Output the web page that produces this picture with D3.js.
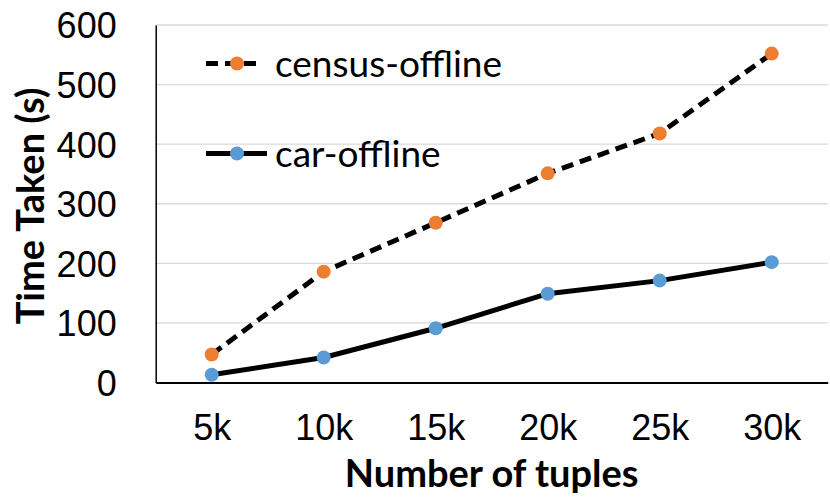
<!DOCTYPE html>
<html>
<head>
<meta charset="utf-8">
<script src="https://cdn.jsdelivr.net/npm/d3@7"></script>
<style>
  body { margin: 0; background: #fff; }
  svg { display: block; font-family: Lato, "Open Sans", sans-serif; }
</style>
</head>
<body>
<div id="chart"></div>
<script>
// data
let categories = ["5k", "10k", "15k", "20k", "25k", "30k"];
let censusValues = [47, 186, 268, 351, 418, 552];
let carValues = [13, 42, 91, 149, 171, 202];
let yTicks = [0, 100, 200, 300, 400, 500, 600];

let w = 830, h = 498;
let plotLeft = 155.7, plotRight = 827.7, plotTop = 25, plotBottom = 382.5;

let svg = d3.select("#chart")
  .append("svg")
  .attr("width", w)
  .attr("height", h);

let x = d3.scalePoint()
  .domain(categories)
  .range([plotLeft, plotRight])
  .padding(0.5);

let y = d3.scaleLinear()
  .domain([0, 600])
  .range([plotBottom, plotTop]);

// gridlines
svg.append("g")
  .selectAll("line")
  .data(yTicks.filter(d => d > 0))
  .join("line")
  .attr("x1", plotLeft)
  .attr("x2", plotRight)
  .attr("y1", d => y(d))
  .attr("y2", d => y(d))
  .attr("stroke", "#d9d9d9")
  .attr("stroke-width", 1.3);

// y axis
let yAxis = svg.append("g")
  .attr("transform", "translate(" + plotLeft + ",0)")
  .call(d3.axisLeft(y).tickValues(yTicks).tickSize(0).tickPadding(39));
yAxis.select(".domain").attr("stroke", "#000").attr("stroke-width", 1.5);
yAxis.selectAll("text")
  .style("font-size", "36px")
  .style("fill", "#000")
  .attr("dy", "0.36em");

// x axis
let xAxis = svg.append("g")
  .attr("transform", "translate(0," + plotBottom + ")")
  .call(d3.axisBottom(x).tickSize(0).tickPadding(0));
xAxis.select(".domain").attr("stroke", "#000").attr("stroke-width", 2.2);
xAxis.selectAll("text")
  .style("font-size", "36px")
  .style("fill", "#000")
  .attr("y", 57)
  .attr("dy", 0);

// axis titles
svg.append("text")
  .attr("x", (plotLeft + plotRight) / 2)
  .attr("y", 487)
  .attr("text-anchor", "middle")
  .style("font-size", "38px")
  .style("font-weight", "bold")
  .text("Number of tuples");

svg.append("text")
  .attr("transform", "translate(44," + 206 + ")rotate(-90)")
  .attr("text-anchor", "middle")
  .style("font-size", "38px")
  .style("font-weight", "bold")
  .text("Time Taken (s)");

// lines
let series = [
  { name: "census-offline", values: censusValues, color: "#ED7D31", dash: "12,7" },
  { name: "car-offline", values: carValues, color: "#5B9BD5", dash: null }
];

let line = d3.line()
  .x((d, i) => x(categories[i]))
  .y(d => y(d));

series.forEach(s => {
  svg.append("path")
    .datum(s.values)
    .attr("d", line)
    .attr("fill", "none")
    .attr("stroke", "#000")
    .attr("stroke-width", 5)
    .attr("stroke-dasharray", s.dash);
  svg.append("g")
    .selectAll("circle")
    .data(s.values)
    .join("circle")
    .attr("cx", (d, i) => x(categories[i]))
    .attr("cy", d => y(d))
    .attr("r", 7)
    .attr("fill", s.color);
});

// legend
let legendY = [63.5, 153.5];
let legend = svg.append("g");
series.forEach((s, i) => {
  let g = legend.append("g").attr("transform", "translate(0," + legendY[i] + ")");
  g.append("line")
    .attr("x1", 206)
    .attr("x2", i === 0 ? 263 : 267)
    .attr("stroke", "#000")
    .attr("stroke-width", 5)
    .attr("stroke-dasharray", s.dash);
  g.append("circle")
    .attr("cx", 237)
    .attr("r", 7)
    .attr("fill", s.color);
  g.append("text")
    .attr("x", 275)
    .attr("y", 13)
    .style("font-size", "37px")
    .text(s.name);
});
</script>
</body>
</html>
